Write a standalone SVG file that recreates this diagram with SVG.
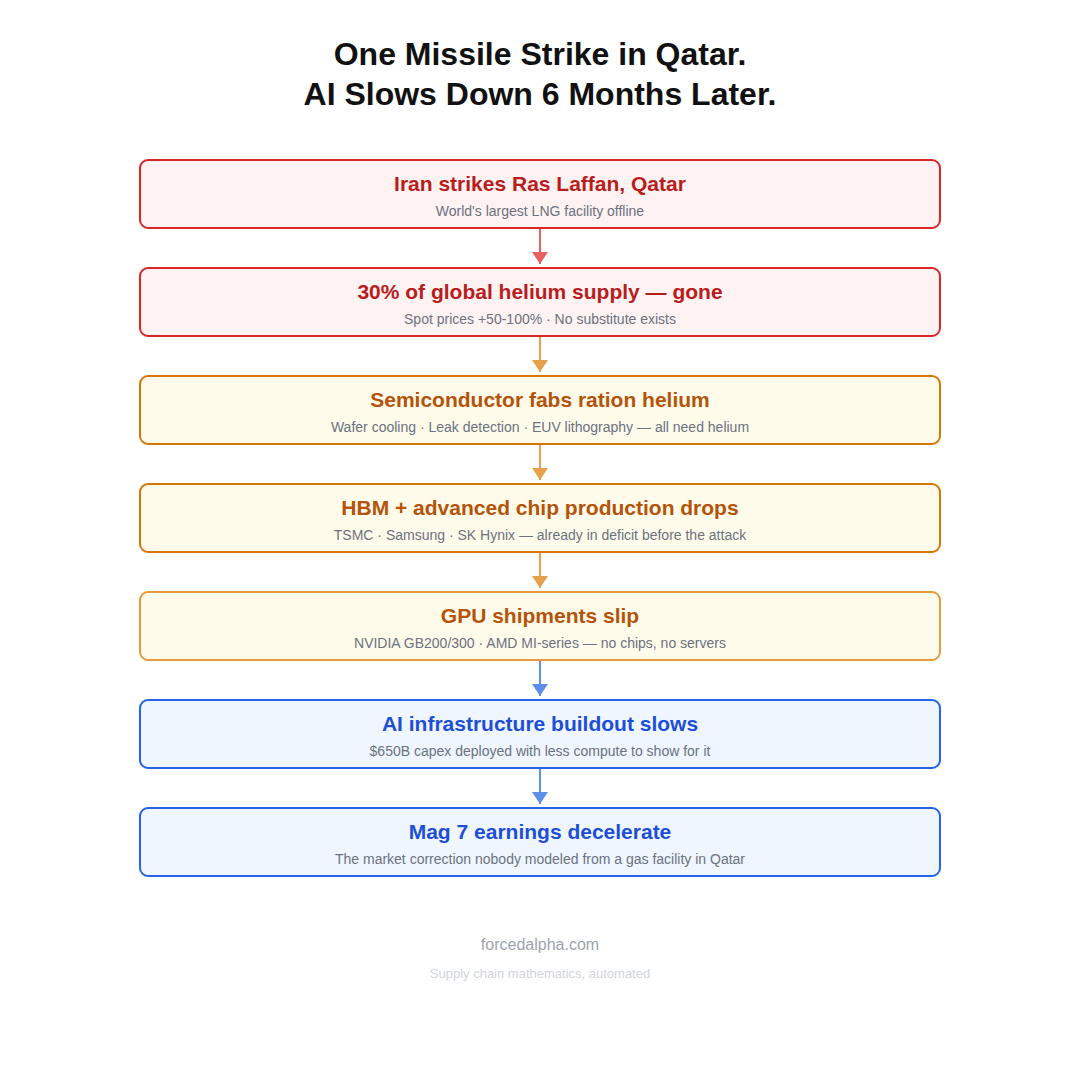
<svg xmlns="http://www.w3.org/2000/svg" width="1080" height="1080" viewBox="0 0 1080 1080">
<style>
text{font-family:"Liberation Sans",Arial,sans-serif;text-anchor:middle}
.h{font-size:32px;font-weight:bold;fill:#111}
.t{font-size:21px;font-weight:bold}
.s{font-size:14px;fill:#6b7280}
.red rect{fill:#fef2f2;stroke:#dc2626}
.red .t{fill:#b91c1c}
.or rect{fill:#fffbeb;stroke:#d97706}
.or2 rect{fill:#fffbeb;stroke:#e89a3a}
.or .t,.or2 .t{fill:#b45309}
.bl rect{fill:#eff6ff;stroke:#2563eb}
.bl .t{fill:#1d4ed8}
rect{stroke-width:2}
</style>
<defs>
<marker id="ar" viewBox="0 0 12 16" refX="12" refY="8" markerWidth="12" markerHeight="16" markerUnits="userSpaceOnUse" orient="auto"><path d="M0,0L12,8L0,16z" fill="#e86060"/></marker>
<marker id="ao" viewBox="0 0 12 16" refX="12" refY="8" markerWidth="12" markerHeight="16" markerUnits="userSpaceOnUse" orient="auto"><path d="M0,0L12,8L0,16z" fill="#e8a04a"/></marker>
<marker id="ab" viewBox="0 0 12 16" refX="12" refY="8" markerWidth="12" markerHeight="16" markerUnits="userSpaceOnUse" orient="auto"><path d="M0,0L12,8L0,16z" fill="#5b8fe8"/></marker>
</defs>
<rect width="1080" height="1080" fill="#fff" stroke="none"/>
<text class="h" x="540" y="65">One Missile Strike in Qatar.</text>
<text class="h" x="540" y="105">AI Slows Down 6 Months Later.</text>
<g id="connectors" stroke-width="2">
<line x1="540" y1="228" x2="540" y2="264" stroke="#e86060" marker-end="url(#ar)"/>
<line x1="540" y1="336" x2="540" y2="372" stroke="#e8a04a" marker-end="url(#ao)"/>
<line x1="540" y1="444" x2="540" y2="480" stroke="#e8a04a" marker-end="url(#ao)"/>
<line x1="540" y1="552" x2="540" y2="588" stroke="#e8a04a" marker-end="url(#ao)"/>
<line x1="540" y1="660" x2="540" y2="696" stroke="#5b8fe8" marker-end="url(#ab)"/>
<line x1="540" y1="768" x2="540" y2="804" stroke="#5b8fe8" marker-end="url(#ab)"/>
</g>
<g id="n1" class="red"><rect x="140" y="160" width="800" height="68" rx="8"/><text class="t" x="540" y="191">Iran strikes Ras Laffan, Qatar</text><text class="s" x="540" y="216">World's largest LNG facility offline</text></g>
<g id="n2" class="red"><rect x="140" y="268" width="800" height="68" rx="8"/><text class="t" x="540" y="299">30% of global helium supply — gone</text><text class="s" x="540" y="324">Spot prices +50-100% · No substitute exists</text></g>
<g id="n3" class="or"><rect x="140" y="376" width="800" height="68" rx="8"/><text class="t" x="540" y="407">Semiconductor fabs ration helium</text><text class="s" x="540" y="432">Wafer cooling · Leak detection · EUV lithography — all need helium</text></g>
<g id="n4" class="or"><rect x="140" y="484" width="800" height="68" rx="8"/><text class="t" x="540" y="515">HBM + advanced chip production drops</text><text class="s" x="540" y="540">TSMC · Samsung · SK Hynix — already in deficit before the attack</text></g>
<g id="n5" class="or2"><rect x="140" y="592" width="800" height="68" rx="8"/><text class="t" x="540" y="623">GPU shipments slip</text><text class="s" x="540" y="648">NVIDIA GB200/300 · AMD MI-series — no chips, no servers</text></g>
<g id="n6" class="bl"><rect x="140" y="700" width="800" height="68" rx="8"/><text class="t" x="540" y="731">AI infrastructure buildout slows</text><text class="s" x="540" y="756">$650B capex deployed with less compute to show for it</text></g>
<g id="n7" class="bl"><rect x="140" y="808" width="800" height="68" rx="8"/><text class="t" x="540" y="839">Mag 7 earnings decelerate</text><text class="s" x="540" y="864">The market correction nobody modeled from a gas facility in Qatar</text></g>
<text x="540" y="950" font-size="16" fill="#9ca3af">forcedalpha.com</text>
<text x="540" y="978" font-size="13" fill="#d1d5db">Supply chain mathematics, automated</text>
</svg>
